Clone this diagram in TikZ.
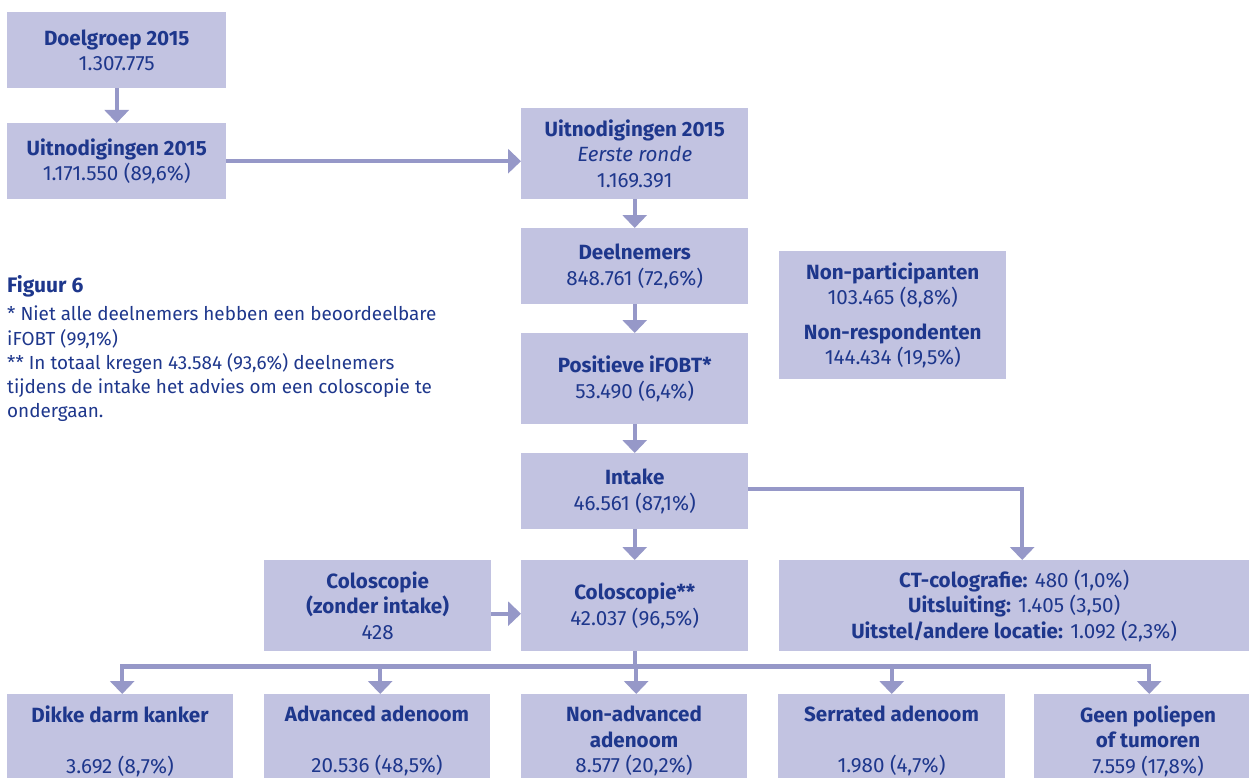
\documentclass[tikz,border=0pt]{standalone}
\usepackage{fontspec}
\setmainfont{Fira Sans}
\usetikzlibrary{arrows.meta,calc}
\definecolor{boxfill}{RGB}{194,195,225}
\definecolor{arrowc}{RGB}{150,152,200}
\definecolor{txt}{RGB}{30,55,140}
\begin{document}
\begin{tikzpicture}[x=1pt,y=-1pt,
  box/.style={fill=boxfill, inner sep=0pt, anchor=north west, align=center, text=txt,
    font=\fontsize{20.6}{25.5}\selectfont},
  lbl/.style={inner sep=0pt, align=center, text=txt, font=\fontsize{20.6}{25.5}\selectfont},
  note/.style={inner sep=0pt, align=left, text=txt, font=\fontsize{18.9}{24.2}\selectfont},
  arr/.style={draw=arrowc, line width=4.3pt, -{Triangle[width=24pt,length=13pt]}}]
\useasboundingbox (0,0) rectangle (1249,778);

% left column
\node[box, minimum width=219pt, minimum height=76pt] (b1) at (7,12)
  {\textbf{Doelgroep 2015}\\1.307.775};
\node[box, minimum width=219pt, minimum height=76pt] (b2) at (7,123)
  {\textbf{Uitnodigingen 2015}\\1.171.550 (89,6\%)};

% main column
\node[box, minimum width=227pt, minimum height=91pt] (b3) at (521,108)
  {\textbf{Uitnodigingen 2015}\\\textit{Eerste ronde}\\1.169.391};
\node[box, minimum width=227pt, minimum height=76pt] (b4) at (521,228)
  {\textbf{Deelnemers}\\848.761 (72,6\%)};
\node[box, minimum width=227pt, minimum height=91pt] (b5) at (521,333)
  {\textbf{Positieve iFOBT*}\\53.490 (6,4\%)};
\node[box, minimum width=227pt, minimum height=76pt] (b6) at (521,453)
  {\textbf{Intake}\\46.561 (87,1\%)};
\node[box, minimum width=227pt, minimum height=91pt] (b7) at (521,560)
  {\textbf{Coloscopie**}\\42.037 (96,5\%)};
\node[box, minimum width=227pt, minimum height=91pt] (b8) at (264,560)
  {\textbf{Coloscopie}\\\textbf{(zonder intake)}\\428};
\node[box, minimum width=470pt, minimum height=91pt] (b9) at (779,560)
  {\textbf{CT-colografie:} 480 (1,0\%)\\\textbf{Uitsluiting:} 1.405 (3,50)\\\textbf{Uitstel/andere locatie:} 1.092 (2,3\%)};
\node[box, minimum width=227pt, minimum height=128pt] (np) at (779,251)
  {\textbf{Non-participanten}\\103.465 (8,8\%)\\[9pt]\textbf{Non-respondenten}\\144.434 (19,5\%)};

% bottom row
\node[box, minimum width=226pt, minimum height=84pt] (k1) at (7,694) {};
\node[box, minimum width=226pt, minimum height=84pt] (k2) at (264,694) {};
\node[box, minimum width=226pt, minimum height=84pt] (k3) at (521,694) {};
\node[box, minimum width=227pt, minimum height=84pt] (k4) at (778,694) {};
\node[box, minimum width=215pt, minimum height=84pt] (k5) at (1034,694) {};
\node[lbl] (t1) at (120,741) {\textbf{Dikke darm kanker}\\\mbox{}\\3.692 (8,7\%)};
\node[lbl] (t2) at (377,741) {\textbf{Advanced adenoom}\\\mbox{}\\20.536 (48,5\%)};
\node[lbl] (t3) at (634,741) {\textbf{Non-advanced}\\\textbf{adenoom}\\8.577 (20,2\%)};
\node[lbl] (t4) at (891.5,741) {\textbf{Serrated adenoom}\\\mbox{}\\1.980 (4,7\%)};
\node[lbl] (t5) at (1148,741) {\textbf{Geen poliepen}\\\textbf{of tumoren}\\7.559 (17,8\%)};

% notes
\node[note, anchor=west, font=\fontsize{21}{24}\selectfont\bfseries] (fig) at (7,286) {Figuur 6};
\node[note, anchor=north west] (notes) at (7,306)
  {* Niet alle deelnemers hebben een beoordeelbare\\iFOBT (99,1\%)\\** In totaal kregen 43.584 (93,6\%) deelnemers\\tijdens de intake het advies om een coloscopie te\\ondergaan.};

% connectors
\draw[arr] (b1) -- (b2);
\draw[arr] (b2.east) -- (b3.west |- b2.east);
\draw[arr] (b3) -- (b4);
\draw[arr] (b4) -- (b5);
\draw[arr] (b5) -- (b6);
\draw[arr] (b6) -- (b7);
\draw[arr] ([yshift=-8pt]b8.east) -- ([yshift=-8pt]b7.west);
\draw[arr] ([yshift=2pt]b6.east) -| ([xshift=8pt]b9.north);
\coordinate (bus) at ($(b7.south)+(0,15)$);
\draw[arr] (b7.south) -- (bus) -| ([xshift=2pt]k1.north);
\draw[arr] (b7.south) -- (bus) -| ([xshift=3pt]k2.north);
\draw[arr] (b7.south) -- (bus) -| ([xshift=2pt]k3.north);
\draw[arr] (b7.south) -- (bus) -| (k4.north);
\draw[arr] (b7.south) -- (bus) -| ([xshift=7.5pt]k5.north);
\end{tikzpicture}
\end{document}
